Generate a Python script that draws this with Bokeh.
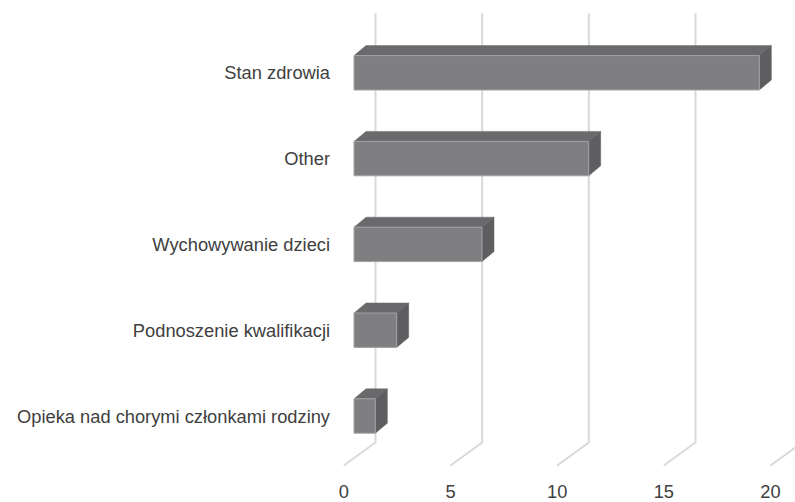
import numpy as np
from bokeh.plotting import figure
from bokeh.models import Range1d
from bokeh.core.properties import value
from bokeh.embed import file_html
from bokeh.resources import INLINE

# ---- data (top to bottom as shown) ----
categories = ["Stan zdrowia", "Other", "Wychowywanie dzieci",
              "Podnoszenie kwalifikacji", "Opieka nad chorymi członkami rodziny"]
values = [19, 11, 6, 2, 1]
ticks = [0, 5, 10, 15, 20]
tick_labels = ["0", "5", "10", "15", "20"]

# ---- layout constants (pixels) ----
W, H = 795, 502
PX = 21.333          # pixels per value unit
PY = 85.8            # pixels per category step
X0 = 353.5           # figure px of value 0 (bar front)
YTOP = 72.3          # figure px of the top bar centre
n = len(categories)
top_idx = n - 1

def ux(px):
    return px / PX

def uy(px):
    return px / PY

def ypix(fig_px):
    return top_idx - (fig_px - YTOP) / PY

x_range = Range1d(-X0 / PX, (W - X0) / PX)
y_range = Range1d(ypix(H), ypix(0))

p = figure(width=W, height=H, x_range=x_range, y_range=y_range,
           output_backend="svg", toolbar_location=None,
           x_axis_type=None, y_axis_type=None, min_border=0,
           outline_line_color=None, background_fill_color="white",
           border_fill_color="white")
p.grid.visible = False

FONT = value("Liberation Sans")
TXT = "#404040"
GRID = "#d9d9d9"

# ---- gridlines with 3D floor ----
fx_front = ux(-10.2)
fx_back = ux(21.5)
y_floor_front = ypix(465)
y_floor_back = ypix(442)
y_grid_top = ypix(12.7)
gxs = [[t + fx_front, t + fx_back, t + fx_back] for t in ticks]
gys = [[y_floor_front, y_floor_back, y_grid_top] for t in ticks]
p.multi_line(xs=gxs, ys=gys, line_color=GRID, line_width=2)

# ---- 3D bars ----
idx = np.array([top_idx - i for i in range(n)], dtype=float)
vals = np.array(values, dtype=float)
half = uy(17.2)
bdx = ux(12)
bdy = uy(10)

top_xs = [[0, v, v + bdx, bdx] for v in vals]
top_ys = [[i + half, i + half, i + half + bdy, i + half + bdy] for i in idx]
side_xs = [[v, v + bdx, v + bdx, v] for v in vals]
side_ys = [[i - half, i - half + bdy, i + half + bdy, i + half] for i in idx]

p.patches(xs=top_xs, ys=top_ys, fill_color="#6a6a6c", line_color="#6a6a6c", line_width=0.5)
p.patches(xs=side_xs, ys=side_ys, fill_color="#5e5e60", line_color="#5e5e60", line_width=0.5)
p.hbar(y=idx, left=0, right=vals, height=2 * half,
       fill_color="#7f7f81", line_color="#a3a3a5", line_width=1)

# ---- category labels ----
p.text(x=[ux(329.5 - X0)] * n, y=idx, text=categories,
       text_align="right", text_baseline="middle",
       text_font=FONT, text_font_size="18.3px", text_color=TXT)

# ---- value tick labels ----
p.text(x=[t + fx_front for t in ticks], y=[ypix(491)] * len(ticks), text=tick_labels,
       text_align="center", text_baseline="middle",
       text_font=FONT, text_font_size="18.3px", text_color=TXT)

open("out.html", "w").write(file_html(p, INLINE))
